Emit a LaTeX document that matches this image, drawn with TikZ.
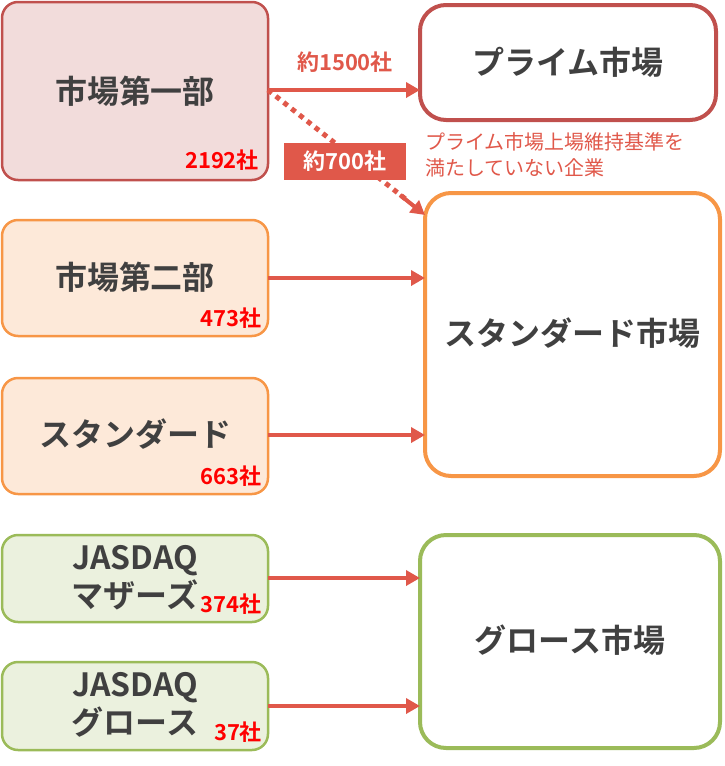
\documentclass[tikz,border=0pt]{standalone}
\usepackage{fontspec}
\setmainfont{Noto Sans CJK JP}[BoldFont={* Bold}]
\usetikzlibrary{arrows.meta}
\definecolor{rd}{HTML}{C0504D}
\definecolor{ar}{HTML}{E0584A}
\definecolor{og}{HTML}{F79646}
\definecolor{gr}{HTML}{9BBB59}
\definecolor{tx}{HTML}{404040}
\begin{document}
\begin{tikzpicture}[x=1pt,y=-1pt,
 box/.style={draw,line width=2.5pt,rounded corners=16pt},
 big/.style={draw,line width=4pt,rounded corners=26pt,fill=white},
 lab/.style={text=tx,font=\bfseries\fontsize{32}{38}\selectfont,align=center},
 cnt/.style={text=red,font=\bfseries\fontsize{22}{24}\selectfont},
 arr/.style={draw=ar,line width=4pt,-{Triangle[length=14pt,width=15pt]}}]
\useasboundingbox (0,0) rectangle (725,766);
\draw[box,draw=rd,fill={rgb,255:red,242;green,220;blue,219}] (2,2) rectangle (268,180);
\draw[big,draw=rd] (420,5) rectangle (716,120);
\draw[box,draw=og,fill={rgb,255:red,253;green,233;blue,217}] (2,220) rectangle (268,336);
\draw[box,draw=og,fill={rgb,255:red,253;green,233;blue,217}] (2,378) rectangle (268,494);
\draw[big,draw=og] (425,193) rectangle (720,476);
\draw[box,draw=gr,fill={rgb,255:red,235;green,241;blue,222}] (2,535) rectangle (268,622);
\draw[box,draw=gr,fill={rgb,255:red,235;green,241;blue,222}] (2,662) rectangle (268,750);
\draw[big,draw=gr] (420,535) rectangle (720,748);
\node[lab] (a) at (135,91) {市場第一部};
\node[lab] (p) at (568,62) {プライム市場};
\node[lab] (b) at (135,277) {市場第二部};
\node[lab] (c) at (135,434) {スタンダード};
\node[lab] (s) at (572,333) {スタンダード市場};
\node[lab] (d) at (135,578) {JASDAQ\\マザーズ};
\node[lab] (e) at (135,705) {JASDAQ\\グロース};
\node[lab] (g) at (570,640) {グロース市場};
\node[cnt] at (222,160) {2192社};
\node[cnt] at (231,318) {473社};
\node[cnt] at (231,476) {663社};
\node[cnt] at (231,604) {374社};
\node[cnt] at (238,732) {37社};
\coordinate (a1) at (268,90); \coordinate (p1) at (420,90);
\coordinate (s1) at (425,215);
\draw[arr] (a1) -- (p1);
\node[text=ar,font=\bfseries\fontsize{22}{24}\selectfont] at (345,62) {約1500社};
\draw[draw=ar,line width=5pt,dash pattern=on 5pt off 5pt] (a1) -- (408,201);
\draw[arr] (400,195) -- (s1);
\node[fill=ar,text=white,font=\bfseries\fontsize{22}{24}\selectfont,minimum width=122pt,minimum height=37pt,inner sep=0] at (345,161) {約700社};
\node[text=ar,font=\fontsize{20}{26}\selectfont,align=left,anchor=north west,inner sep=0] at (425,132) {プライム市場上場維持基準を\\満たしていない企業};
\draw[arr] (268,278) -- (425,278);
\draw[arr] (268,435) -- (425,435);
\draw[arr] (268,578) -- (420,578);
\draw[arr] (268,706) -- (420,706);
\end{tikzpicture}
\end{document}
